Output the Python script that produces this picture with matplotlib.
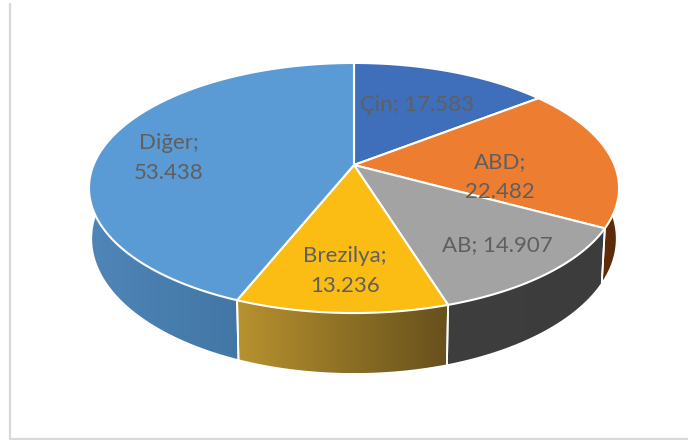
import numpy as np
import matplotlib
matplotlib.use("Agg")
import matplotlib.pyplot as plt
from matplotlib.patches import Polygon
from matplotlib.colors import to_rgb

categories = ["Çin", "ABD", "AB", "Brezilya", "Diğer"]
values = [17.583, 22.482, 14.907, 13.236, 53.438]
top_colors = ["#3F6FBA", "#ED7D31", "#A3A3A3", "#FBBC14", "#5B9BD5"]
wall_start = ["#2B4A80", "#7A3A10", "#3E3E3E", "#B8922F", "#4F86B8"]
wall_end = ["#2B4A80", "#5A2A0A", "#3C3C3C", "#66501C", "#376A97"]
label_lines = [["{c}; {v:.3f}"], ["{c};", "{v:.3f}"], ["{c}; {v:.3f}"], ["{c};", "{v:.3f}"], ["{c};", "{v:.3f}"]]
label_pos = [(417, 105), (500, 177), (497, 245), (345, 271), (169, 158)]

CX, CY, A, B, K, D, S = 354, 165, 260.5, 120.8, 0.184, 49, 0.988


def project(theta, drop=False):
    u, v = np.sin(theta), np.cos(theta)
    den = 1 + K * v
    x = A * u / den
    y = -B * v / den
    if drop:
        return CX + S * x, CY + y + D / den
    return CX + x, CY + y


fig = plt.figure(figsize=(6.88, 4.40), dpi=100)
ax = fig.add_axes([0, 0, 1, 1])
ax.set_xlim(0, 688)
ax.set_ylim(440, 0)
ax.axis("off")

ax.plot([9.5, 9.5, 688], [3, 439, 439], color="#D9D9D9", lw=1.6, solid_capstyle="butt")

edges = np.concatenate([[0], np.cumsum(values)]) / np.sum(values) * 2 * np.pi

# side walls
for i in range(len(values)):
    t = np.linspace(edges[i], edges[i + 1], 200)
    x0, y0 = project(t)
    x1, y1 = project(t, True)
    xs = np.r_[x0, x1[::-1]]
    ys = np.r_[y0, y1[::-1]]
    c0, c1 = np.array(to_rgb(wall_start[i])), np.array(to_rgb(wall_end[i]))
    ramp = np.linspace(0, 1, 256)[:, None]
    grad = (c0 + (c1 - c0) * ramp)[None, :, :]
    outline = Polygon(np.column_stack([xs, ys]), closed=True, transform=ax.transData,
                      facecolor="none", edgecolor="none")
    ax.add_patch(outline)
    im = ax.imshow(grad, extent=(xs.min(), xs.max(), ys.max(), ys.min()), aspect="auto",
                   interpolation="bilinear", zorder=2)
    im.set_clip_path(outline)
    for e in (edges[i], edges[i + 1]):
        if np.cos(e) < 0.3:
            xa, ya = project(np.array([e]))
            xb, yb = project(np.array([e]), True)
            ax.plot([xa[0], xb[0]], [ya[0], yb[0]], color="white", lw=1.3, zorder=3)

ax.set_xlim(0, 688)
ax.set_ylim(440, 0)
ax.set_aspect("auto")

# top surface
for i in range(len(values)):
    t = np.linspace(edges[i], edges[i + 1], 200)
    x, y = project(t)
    pts = np.column_stack([np.r_[CX, x], np.r_[CY, y]])
    ax.add_patch(Polygon(pts, closed=True, facecolor=top_colors[i], edgecolor="white", lw=1.5, joinstyle="round", zorder=4))

# labels
for c, v, lines, (lx, ly) in zip(categories, values, label_lines, label_pos):
    text = "\n".join(l.format(c=c, v=v) for l in lines)
    ax.text(lx, ly, text, ha="center", va="center", family="Lato", fontsize=16, color="#5F5F5F",
            linespacing=1.6, zorder=5)

fig.savefig("out.png", dpi=100)
